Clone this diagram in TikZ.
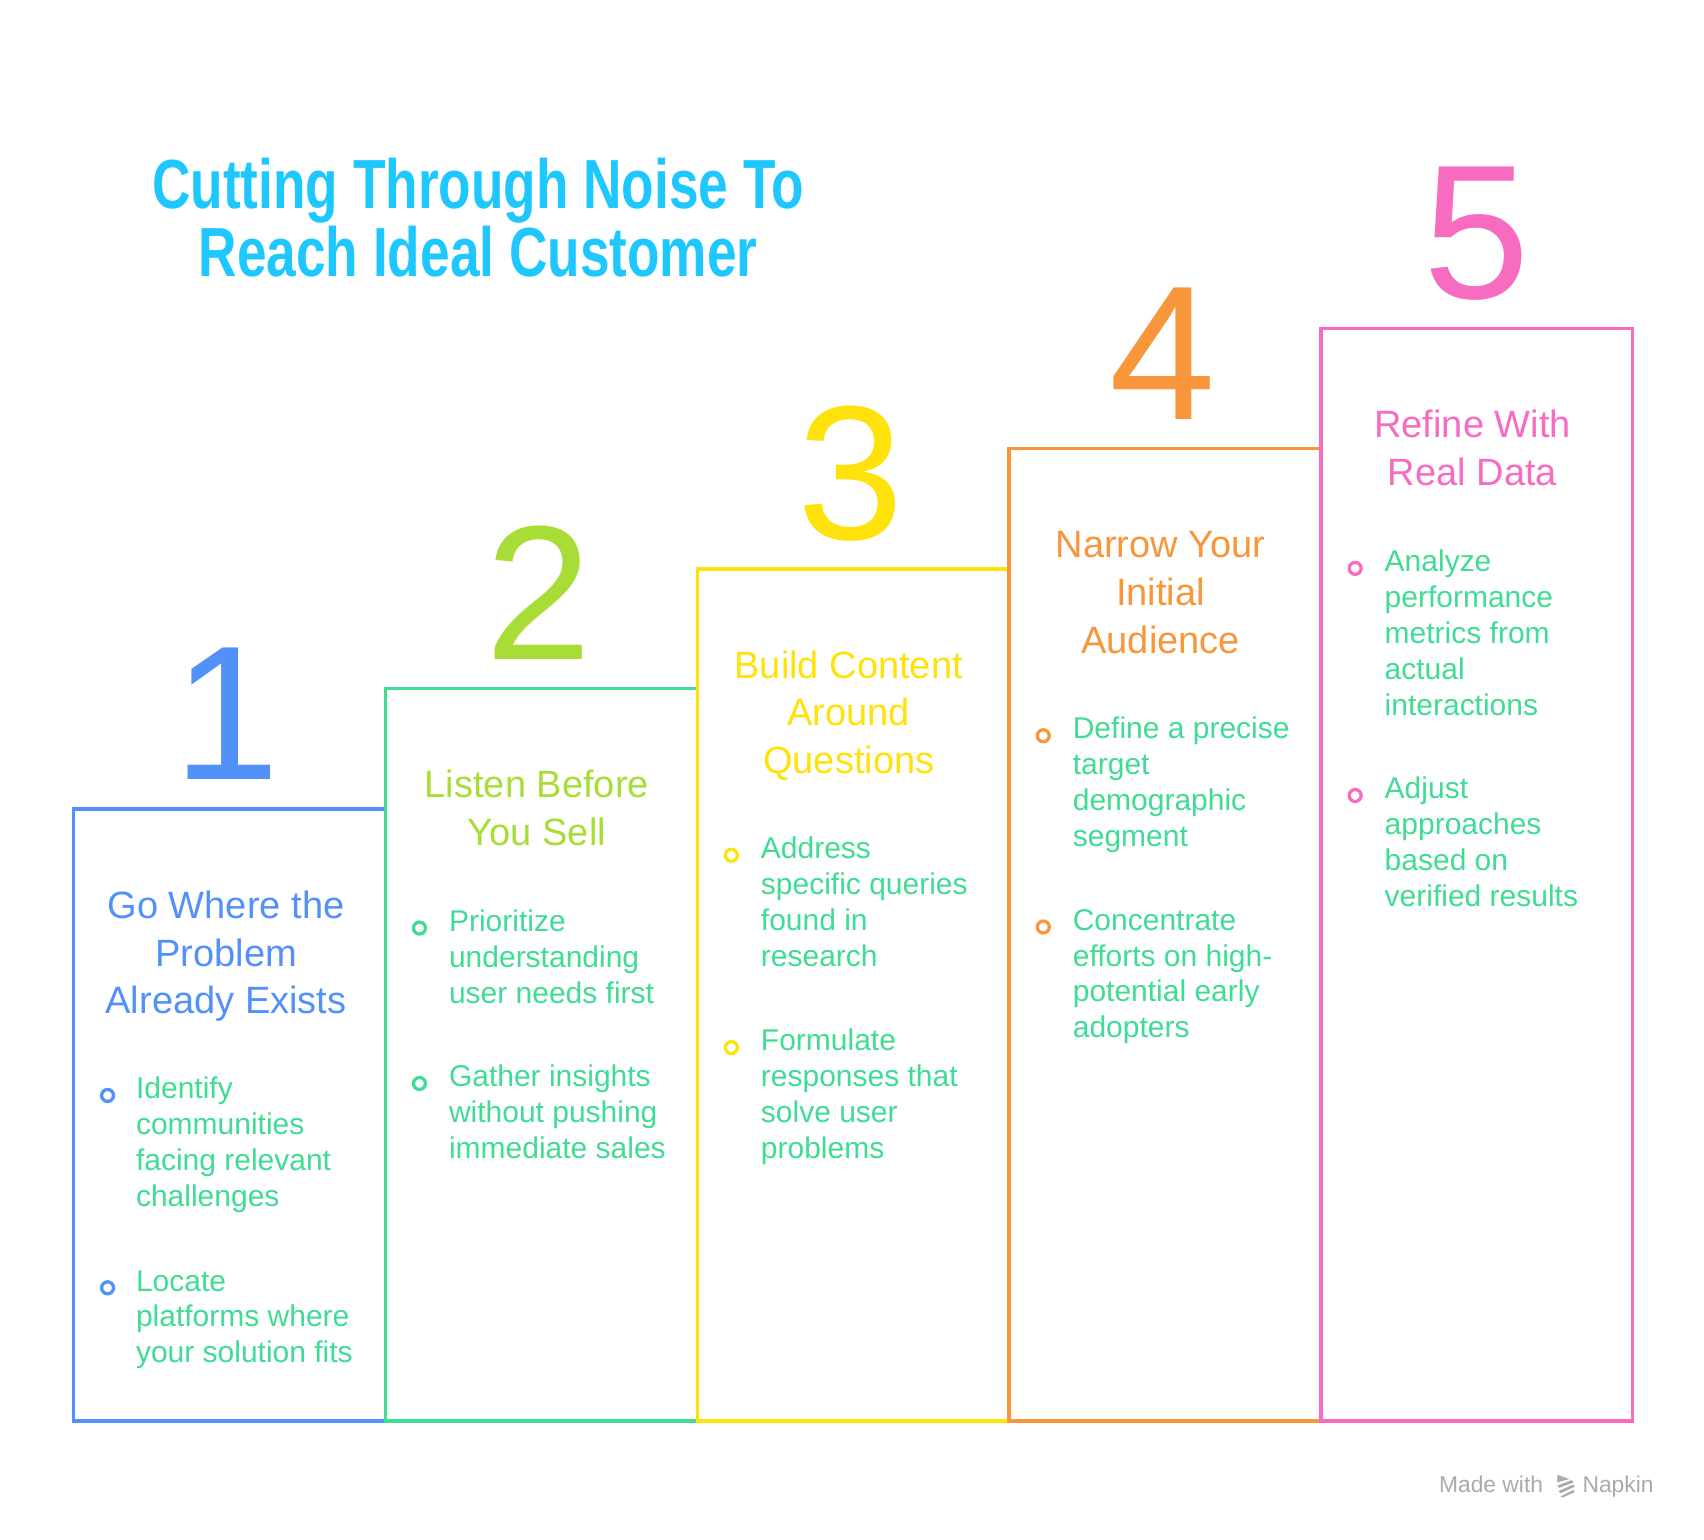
\documentclass[tikz,border=0pt]{standalone}
\usepackage{fontspec}
\setmainfont{Liberation Sans}
\definecolor{cblue}{HTML}{5291FA}
\definecolor{cgreen}{HTML}{40DC94}
\definecolor{clime}{HTML}{A8DD38}
\definecolor{cyellow}{HTML}{FFE20B}
\definecolor{corange}{HTML}{F7963A}
\definecolor{cpink}{HTML}{F76BC1}
\definecolor{ccyan}{HTML}{1EC8FF}
\definecolor{cgray}{HTML}{AAAAAA}
\begin{document}
\begin{tikzpicture}[x=1pt,y=-1pt,
  stepbox/.style={draw, line width=3pt, anchor=north west, minimum width=287pt, inner sep=0pt},
  digit/.style={anchor=base, inner sep=0pt, font=\fontsize{176}{176}\selectfont},
  steptitle/.style={anchor=base, inner sep=0pt, font=\fontsize{35}{44}\selectfont},
  bullettext/.style={anchor=base west, inner sep=0pt, text=cgreen, font=\fontsize{27.6}{33}\selectfont},
  ring/.style={circle, draw, line width=3pt, minimum size=11pt, inner sep=0pt},
  maintitle/.style={anchor=base, inner sep=0pt, text=ccyan, font=\fontsize{64}{62}\selectfont\bfseries}
]
\path[use as bounding box, fill=white] (0,0) rectangle (1568,1417);

% title
\node[maintitle] (title) at (440,192) {\scalebox{0.765}[1]{\parbox[t]{800pt}{\centering Cutting Through Noise To\\Reach Ideal Customer}}};

% boxes
\node[stepbox, cblue, minimum height=563pt] (b1) at (66,743) {};
\node[stepbox, cgreen, minimum height=674pt] (b2) at (353,632) {};
\node[stepbox, cyellow, minimum height=784pt] (b3) at (640,522) {};
\node[stepbox, corange, minimum height=895pt] (b4) at (927,411) {};
\node[stepbox, cpink, minimum height=1005pt] (b5) at (1214,301) {};

% digits
\node[digit, text=cblue] (d1) at (209,717) {1};
\node[digit, text=clime] (d2) at (496,607) {2};
\node[digit, text=cyellow] (d3) at (783,496) {3};
\node[digit, text=corange] (d4) at (1070,386) {4};
\node[digit, text=cpink] (d5) at (1359,275) {5};

% step titles
\node[steptitle, text=cblue] (t1) at (208,845) {\parbox[t]{280pt}{\centering Go Where the\\Problem\\Already Exists}};
\node[steptitle, text=clime] (t2) at (494,734) {\parbox[t]{280pt}{\centering Listen Before\\You Sell}};
\node[steptitle, text=cyellow] (t3) at (781,624) {\parbox[t]{280pt}{\centering Build Content\\Around\\Questions}};
\node[steptitle, text=corange] (t4) at (1068,513) {\parbox[t]{280pt}{\centering Narrow Your\\Initial\\Audience}};
\node[steptitle, text=cpink] (t5) at (1355,403) {\parbox[t]{280pt}{\centering Refine With\\Real Data}};

% bullets box 1
\node[ring, cblue] (r11) at (99,1008) {};
\node[bullettext] (p11) at (125,1011) {\parbox[t]{240pt}{\raggedright Identify\\communities\\facing relevant\\challenges}};
\node[ring, cblue] (r12) at (99,1185) {};
\node[bullettext] (p12) at (125,1188) {\parbox[t]{240pt}{\raggedright Locate\\platforms where\\your solution fits}};

% bullets box 2
\node[ring, cgreen] (r21) at (386,854) {};
\node[bullettext] (p21) at (413,857) {\parbox[t]{240pt}{\raggedright Prioritize\\understanding\\user needs first}};
\node[ring, cgreen] (r22) at (386,997) {};
\node[bullettext] (p22) at (413,1000) {\parbox[t]{240pt}{\raggedright Gather insights\\without pushing\\immediate sales}};

% bullets box 3
\node[ring, cyellow] (r31) at (673,787) {};
\node[bullettext] (p31) at (700,790) {\parbox[t]{240pt}{\raggedright Address\\specific queries\\found in\\research}};
\node[ring, cyellow] (r32) at (673,964) {};
\node[bullettext] (p32) at (700,967) {\parbox[t]{240pt}{\raggedright Formulate\\responses that\\solve user\\problems}};

% bullets box 4
\node[ring, corange] (r41) at (960,677) {};
\node[bullettext] (p41) at (987,680) {\parbox[t]{240pt}{\raggedright Define a precise\\target\\demographic\\segment}};
\node[ring, corange] (r42) at (960,853) {};
\node[bullettext] (p42) at (987,856) {\parbox[t]{240pt}{\raggedright Concentrate\\efforts on high-\\potential early\\adopters}};

% bullets box 5
\node[ring, cpink] (r51) at (1247,523) {};
\node[bullettext] (p51) at (1274,526) {\parbox[t]{240pt}{\raggedright Analyze\\performance\\metrics from\\actual\\interactions}};
\node[ring, cpink] (r52) at (1247,732) {};
\node[bullettext] (p52) at (1274,735) {\parbox[t]{240pt}{\raggedright Adjust\\approaches\\based on\\verified results}};

% watermark
\node[anchor=base west, inner sep=0pt, text=cgray, font=\fontsize{21}{21}\selectfont] (mw) at (1324,1373) {Made with};
\node[anchor=base west, inner sep=0pt, text=cgray, font=\fontsize{21}{21}\selectfont] (nap) at (1456,1373) {Napkin};
\fill[cgray] (1433,1357) -- (1444,1361) -- (1433,1364) -- cycle;
\fill[cgray] (1433,1367) -- (1446,1362) -- (1448,1364) -- (1435,1369) -- cycle;
\fill[cgray] (1434,1372) -- (1448,1366) -- (1449,1368) -- (1436,1374) -- cycle;
\fill[cgray] (1436,1377) -- (1448,1371) -- (1449,1373) -- (1438,1378) -- cycle;
\end{tikzpicture}
\end{document}
